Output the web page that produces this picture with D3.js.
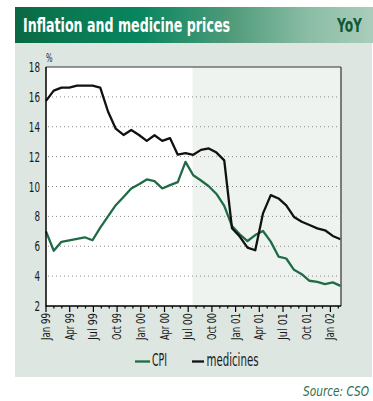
<!DOCTYPE html>
<html>
<head>
<meta charset="utf-8">
<script src="https://cdn.jsdelivr.net/npm/d3@7"></script>
<style>
  html, body { margin: 0; padding: 0; background: #ffffff; }
  svg { display: block; }
  text { font-family: "Liberation Sans Narrow", "DejaVu Sans Condensed", "Roboto", sans-serif; }
</style>
</head>
<body>
<svg id="chart" width="373" height="401"></svg>
<script>
// Monthly year-on-year rates, Jan 1999 onwards (%)
const cpi = [7.0, 5.7, 6.3, 6.4, 6.5, 6.6, 6.4, 7.25, 8.0, 8.75, 9.3, 9.87, 10.15,
  10.47, 10.36, 9.87, 10.09, 10.29, 11.65, 10.75, 10.4, 10.02, 9.5, 8.7, 7.35,
  6.8, 6.35, 6.75, 7.02, 6.31, 5.31, 5.18, 4.42, 4.13, 3.69, 3.62, 3.47, 3.58, 3.35];
const medicines = [15.73, 16.42, 16.62, 16.62, 16.75, 16.75, 16.75, 16.62, 15.02, 13.87,
  13.45, 13.78, 13.45, 13.05, 13.43, 13.05, 13.24, 12.13, 12.24, 12.12, 12.45, 12.55,
  12.27, 11.75, 7.2, 6.65, 5.91, 5.73, 8.2, 9.42, 9.2, 8.73, 7.96, 7.64, 7.42, 7.2,
  7.07, 6.69, 6.47];
const tickLabels = ["Jan 99", "Apr 99", "Jul 99", "Oct 99", "Jan 00", "Apr 00", "Jul 00",
  "Oct 00", "Jan 01", "Apr 01", "Jul 01", "Oct 01", "Jan 02"];
const yTicks = [2, 4, 6, 8, 10, 12, 14, 16, 18];
const shadeFromMonth = 18.55;   // shaded period starts here (months after Jan 99)

const svg = d3.select("#chart");
const plot = { left: 46, right: 341, top: 67, bottom: 306 };

// header band
const defs = svg.append("defs");
const grad = defs.append("linearGradient").attr("id", "hdr").attr("x1", 0).attr("x2", 1);
[[0, "#0a6843"], [0.12, "#0a7650"], [0.35, "#08865f"], [0.6, "#4f9a7a"], [0.82, "#8abda5"], [1, "#aacdbb"]]
  .forEach(([o, c]) => grad.append("stop").attr("offset", o).attr("stop-color", c));
svg.append("rect").attr("x", 15).attr("y", 7).attr("width", 358).attr("height", 36).attr("fill", "url(#hdr)");
svg.append("text").attr("x", 23).attr("y", 31.5).attr("fill", "#ffffff")
  .attr("font-size", 19).attr("font-weight", "bold")
  .attr("textLength", 207).attr("lengthAdjust", "spacingAndGlyphs")
  .text("Inflation and medicine prices");
svg.append("text").attr("x", 337).attr("y", 31.5).attr("fill", "#0e5a36")
  .attr("font-size", 19).attr("font-weight", "bold")
  .attr("textLength", 25).attr("lengthAdjust", "spacingAndGlyphs")
  .text("YoY");

// panel background
svg.append("rect").attr("x", 15).attr("y", 43).attr("width", 357).attr("height", 334).attr("fill", "#dde6e0");

// scales
const y = d3.scaleLinear().domain([2, 18]).range([plot.bottom, plot.top]);
const xMonth = d3.scaleLinear().domain([0, 37.34]).range([plot.left, plot.right]);
const xData = d3.scaleLinear().domain([0, cpi.length - 1]).range([plot.left, plot.right - 0.5]);

// plot area: white, then shaded later period
svg.append("rect").attr("x", plot.left).attr("y", plot.top)
  .attr("width", plot.right - plot.left).attr("height", plot.bottom - plot.top).attr("fill", "#ffffff");
svg.append("rect").attr("x", xMonth(shadeFromMonth)).attr("y", plot.top)
  .attr("width", plot.right - xMonth(shadeFromMonth)).attr("height", plot.bottom - plot.top)
  .attr("fill", "#eef3f0");

// dotted gridlines
svg.append("g").selectAll("line").data(yTicks.filter(v => v > 2 && v < 18)).join("line")
  .attr("x1", plot.left + 2).attr("x2", plot.right - 2)
  .attr("y1", d => y(d)).attr("y2", d => y(d))
  .attr("stroke", "#8a8a8a").attr("stroke-width", 1).attr("stroke-dasharray", "1,3");

// y labels
svg.append("g").selectAll("text").data(yTicks).join("text")
  .attr("x", 40).attr("y", d => y(d)).attr("dy", "0.36em").attr("text-anchor", "end")
  .attr("font-size", 14).attr("fill", "#1a1a1a")
  .attr("textLength", d => String(d).length * 5.6).attr("lengthAdjust", "spacingAndGlyphs")
  .text(d => d);
svg.append("text").attr("x", 46).attr("y", 62).attr("font-size", 12).attr("fill", "#1a1a1a")
  .attr("textLength", 6.5).attr("lengthAdjust", "spacingAndGlyphs").text("%");

// lines
const line = d3.line().x((d, i) => xData(i)).y(d => y(d));
svg.append("path").datum(cpi).attr("d", line).attr("fill", "none")
  .attr("stroke", "#1f6b45").attr("stroke-width", 2.3).attr("stroke-linejoin", "round");
svg.append("path").datum(medicines).attr("d", line).attr("fill", "none")
  .attr("stroke", "#111").attr("stroke-width", 2.3).attr("stroke-linejoin", "round");

// frame
svg.append("line").attr("x1", plot.left).attr("x2", plot.right).attr("y1", plot.top).attr("y2", plot.top)
  .attr("stroke", "#333").attr("stroke-width", 1);
svg.append("line").attr("x1", plot.right).attr("x2", plot.right).attr("y1", plot.top).attr("y2", plot.bottom)
  .attr("stroke", "#555").attr("stroke-width", 1.5);
svg.append("line").attr("x1", plot.left).attr("x2", plot.left).attr("y1", plot.top).attr("y2", plot.bottom + 0.75)
  .attr("stroke", "#000").attr("stroke-width", 1.5);
svg.append("line").attr("x1", plot.left).attr("x2", plot.right).attr("y1", plot.bottom).attr("y2", plot.bottom)
  .attr("stroke", "#000").attr("stroke-width", 1.5);

// x ticks: monthly minor, quarterly major with labels
svg.append("g").selectAll("line").data(d3.range(0, 38)).join("line")
  .attr("x1", d => xMonth(d)).attr("x2", d => xMonth(d))
  .attr("y1", plot.bottom).attr("y2", d => plot.bottom + (d % 3 === 0 ? 6 : 2.5))
  .attr("stroke", "#000").attr("stroke-width", 1.2);
svg.append("g").selectAll("text").data(tickLabels).join("text")
  .attr("transform", (d, i) => `translate(${xMonth(i * 3) + 4},313) rotate(-90)`)
  .attr("text-anchor", "end").attr("font-size", 12.5).attr("fill", "#1a1a1a")
  .attr("textLength", 27).attr("lengthAdjust", "spacingAndGlyphs")
  .text(d => d);

// legend
svg.append("line").attr("x1", 135).attr("x2", 150).attr("y1", 361.5).attr("y2", 361.5)
  .attr("stroke", "#1f6b45").attr("stroke-width", 2.3);
svg.append("text").attr("x", 152).attr("y", 366).attr("font-size", 18).attr("fill", "#1a1a1a")
  .attr("textLength", 15).attr("lengthAdjust", "spacingAndGlyphs").text("CPI");
svg.append("line").attr("x1", 192).attr("x2", 204).attr("y1", 361.5).attr("y2", 361.5)
  .attr("stroke", "#111").attr("stroke-width", 2.3);
svg.append("text").attr("x", 206.5).attr("y", 366).attr("font-size", 18).attr("fill", "#1a1a1a")
  .attr("textLength", 52).attr("lengthAdjust", "spacingAndGlyphs").text("medicines");

// source note, squeezed to a condensed width
const src = svg.append("text").attr("transform", "translate(369,396)")
  .attr("text-anchor", "end")
  .attr("font-size", 14.5).attr("font-style", "italic").attr("fill", "#2c6e4c")
  .text("Source: CSO");
const srcW = src.node().getComputedTextLength();
src.attr("transform", `translate(369,396) scale(${Math.min(1, 66 / srcW)},1)`);
</script>
</body>
</html>
